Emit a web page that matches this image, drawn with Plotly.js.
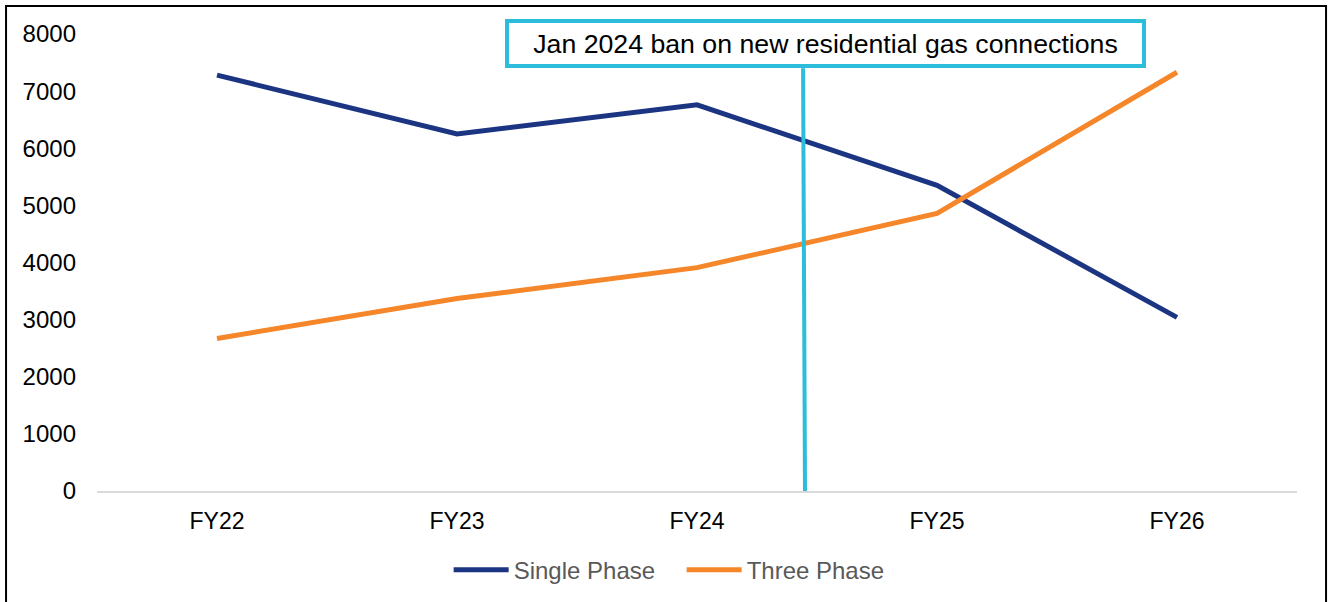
<!DOCTYPE html>
<html>
<head>
<meta charset="utf-8">
<script src="https://cdn.plot.ly/plotly-3.0.1.min.js"></script>
<style>
  html, body { margin: 0; padding: 0; background: #ffffff; }
  #chart { width: 1333px; height: 602px; }
</style>
</head>
<body>
<div id="chart"></div>
<script>
// Financial years on the category axis
const years = ["FY22", "FY23", "FY24", "FY25", "FY26"];

// Connections per year by phase type
const singlePhase = [7280, 6250, 6760, 5350, 3040];
const threePhase = [2670, 3370, 3910, 4860, 7330];

// Policy marker: position between FY24 and FY25 and its label
const banPosition = 2.45;
const banLabel = "Jan 2024 ban on new residential gas connections";

const yTicks = [0, 1000, 2000, 3000, 4000, 5000, 6000, 7000, 8000];

const FONT = "Liberation Sans, Arial, sans-serif";
const CYAN = "#2bbdd9";

const traces = [
  {
    x: years, y: singlePhase, name: "Single Phase",
    type: "scatter", mode: "lines",
    line: { color: "#1b3582", width: 5 }
  },
  {
    x: years, y: threePhase, name: "Three Phase",
    type: "scatter", mode: "lines",
    line: { color: "#f5862a", width: 5 }
  }
];

const layout = {
  width: 1333,
  height: 602,
  margin: { l: 97, r: 36, t: 34, b: 111, autoexpand: false },
  paper_bgcolor: "#ffffff",
  plot_bgcolor: "#ffffff",
  font: { family: FONT, size: 22, color: "#000000" },
  showlegend: true,
  legend: {
    orientation: "h",
    x: 0.4872, xanchor: "center",
    y: -0.173, yanchor: "middle",
    font: { family: FONT, size: 24, color: "#595959" },
    itemwidth: 55,
    entrywidth: 163,
    traceorder: "normal"
  },
  xaxis: {
    type: "category",
    range: [-0.5, 4.5],
    showgrid: false,
    zeroline: false,
    showline: true,
    linecolor: "#d9d9d9",
    linewidth: 1.5,
    ticks: "",
    ticklabelstandoff: 9,
    tickfont: { family: FONT, size: 23, color: "#000000" },
    fixedrange: true
  },
  yaxis: {
    range: [0, 8000],
    tickvals: yTicks,
    ticktext: yTicks.map(String),
    showgrid: false,
    zeroline: false,
    showline: false,
    ticks: "",
    ticklabelstandoff: 20,
    tickfont: { family: FONT, size: 24, color: "#000000" },
    fixedrange: true
  },
  shapes: [
    // vertical marker line for the gas connection ban
    {
      type: "line", xref: "x", yref: "y",
      x0: banPosition, y0: 0,
      x1: banPosition - 0.008, y1: 7400,
      line: { color: CYAN, width: 4 },
      layer: "above"
    },
    // frame around the whole chart
    {
      type: "rect", xref: "paper", yref: "paper",
      x0: -0.0758, x1: 1.0242, y0: -0.30, y1: 1.0614,
      line: { color: "#000000", width: 2 },
      fillcolor: "rgba(0,0,0,0)"
    }
  ],
  annotations: [
    {
      xref: "x", yref: "y",
      x: 2.535, y: 7830,
      xanchor: "center", yanchor: "middle",
      text: banLabel,
      showarrow: false,
      font: { family: FONT, size: 26.7, color: "#000000" },
      bgcolor: "#ffffff",
      bordercolor: CYAN,
      borderwidth: 4,
      borderpad: 0,
      width: 633,
      height: 41
    }
  ]
};

Plotly.newPlot("chart", traces, layout, { staticPlot: true, displayModeBar: false });
</script>
</body>
</html>
